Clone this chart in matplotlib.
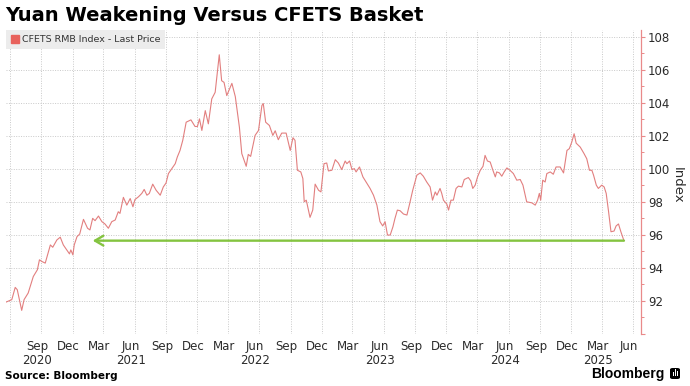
import matplotlib
matplotlib.use("Agg")
import matplotlib.pyplot as plt
import pandas as pd
from matplotlib.lines import Line2D
from matplotlib.patches import FancyBboxPatch, Rectangle
from matplotlib.transforms import ScaledTranslation

# ---------------- data ----------------
dates = [
    "2020-05-20", "2020-06-06", "2020-06-16", "2020-06-22", "2020-07-05", "2020-07-12", "2020-07-24",
    "2020-08-08", "2020-08-20", "2020-08-26", "2020-09-02", "2020-09-12", "2020-09-27", "2020-10-04",
    "2020-10-16", "2020-10-26", "2020-11-04", "2020-11-14", "2020-11-22", "2020-11-26", "2020-12-02",
    "2020-12-06", "2020-12-14", "2020-12-22", "2021-01-02", "2021-01-14", "2021-01-21", "2021-01-29",
    "2021-02-05", "2021-02-15", "2021-02-25", "2021-03-06", "2021-03-16", "2021-03-26", "2021-04-05",
    "2021-04-14", "2021-04-19", "2021-04-29", "2021-05-09", "2021-05-19", "2021-05-27", "2021-06-02",
    "2021-06-12", "2021-06-22", "2021-06-29", "2021-07-07", "2021-07-14", "2021-07-24", "2021-08-03",
    "2021-08-15", "2021-08-24", "2021-09-01", "2021-09-08", "2021-09-18", "2021-09-28", "2021-10-04",
    "2021-10-12", "2021-10-20", "2021-10-30", "2021-11-13", "2021-11-25", "2021-12-02", "2021-12-08",
    "2021-12-15", "2021-12-25", "2022-01-03", "2022-01-13", "2022-01-23", "2022-02-04", "2022-02-11",
    "2022-02-18", "2022-02-26", "2022-03-13", "2022-03-23", "2022-04-04", "2022-04-11", "2022-04-24",
    "2022-04-30", "2022-05-07", "2022-05-20", "2022-05-30", "2022-06-09", "2022-06-13", "2022-06-20",
    "2022-07-01", "2022-07-11", "2022-07-18", "2022-07-27", "2022-08-06", "2022-08-19", "2022-08-31",
    "2022-09-08", "2022-09-14", "2022-09-21", "2022-10-01", "2022-10-07", "2022-10-11", "2022-10-17",
    "2022-10-28", "2022-11-05", "2022-11-12", "2022-11-22", "2022-11-29", "2022-12-08", "2022-12-16",
    "2022-12-21", "2022-12-31", "2023-01-10", "2023-01-19", "2023-01-29", "2023-02-08", "2023-02-13",
    "2023-02-21", "2023-02-28", "2023-03-07", "2023-03-12", "2023-03-22", "2023-04-01", "2023-04-13",
    "2023-04-22", "2023-05-02", "2023-05-12", "2023-05-21", "2023-05-29", "2023-06-05", "2023-06-12",
    "2023-06-20", "2023-06-28", "2023-07-04", "2023-07-11", "2023-07-19", "2023-07-29", "2023-08-08",
    "2023-08-15", "2023-08-25", "2023-09-06", "2023-09-16", "2023-09-25", "2023-10-05", "2023-10-15",
    "2023-10-22", "2023-10-30", "2023-11-04", "2023-11-13", "2023-11-18", "2023-11-23", "2023-12-03",
    "2023-12-08", "2023-12-15", "2023-12-22", "2023-12-30", "2024-01-06", "2024-01-16", "2024-01-23",
    "2024-02-04", "2024-02-11", "2024-02-17", "2024-02-24", "2024-03-02", "2024-03-10", "2024-03-18",
    "2024-03-24", "2024-03-31", "2024-04-08", "2024-04-16", "2024-04-23", "2024-04-27", "2024-05-05",
    "2024-05-12", "2024-05-19", "2024-05-27", "2024-06-05", "2024-06-15", "2024-06-25", "2024-07-05",
    "2024-07-13", "2024-07-24", "2024-08-08", "2024-08-18", "2024-08-25", "2024-08-30", "2024-09-03",
    "2024-09-09", "2024-09-16", "2024-09-21", "2024-10-01", "2024-10-10", "2024-10-18", "2024-10-30",
    "2024-11-09", "2024-11-19", "2024-11-26", "2024-12-03", "2024-12-10", "2024-12-16", "2024-12-28",
    "2025-01-08", "2025-01-16", "2025-01-24", "2025-01-31", "2025-02-05", "2025-02-13", "2025-02-19",
    "2025-03-01", "2025-03-08", "2025-03-14", "2025-03-21", "2025-03-28", "2025-04-06", "2025-04-12",
    "2025-04-19", "2025-04-26", "2025-05-05",
]
cfets_index = [
    91.93, 92.08, 92.82, 92.68, 91.43, 92.08, 92.48,
    93.48, 93.89, 94.49, 94.39, 94.29, 95.39, 95.25,
    95.69, 95.86, 95.39, 95.09, 94.85, 95.09, 94.79,
    95.39, 95.89, 96.05, 96.94, 96.40, 96.30, 97.00,
    96.86, 97.14, 96.80, 96.66, 96.40, 96.80, 96.90,
    97.40, 97.30, 98.27, 97.80, 98.20, 97.70, 98.14,
    98.30, 98.51, 98.75, 98.40, 98.51, 99.07, 98.70,
    98.40, 98.90, 99.14, 99.71, 100.01, 100.31, 100.71,
    101.11, 101.72, 102.82, 102.96, 102.56, 102.56, 103.02,
    102.32, 103.52, 102.72, 104.23, 104.63, 106.90, 105.33,
    105.23, 104.43, 105.17, 104.37, 102.52, 100.92, 100.15,
    100.87, 100.75, 102.02, 102.32, 103.83, 103.95, 102.82,
    102.62, 102.02, 102.30, 101.76, 102.16, 102.16, 101.11,
    101.88, 101.72, 99.91, 99.81, 99.41, 98.00, 98.10,
    97.06, 97.50, 99.07, 98.70, 98.60, 100.31, 100.35,
    99.87, 99.91, 100.55, 100.35, 99.95, 100.47, 100.31,
    100.47, 99.95, 100.01, 99.81, 100.11, 99.51, 99.11,
    98.81, 98.40, 97.80, 96.80, 96.54, 96.80, 95.99,
    95.99, 96.49, 97.00, 97.50, 97.46, 97.26, 97.20,
    97.80, 98.70, 99.61, 99.75, 99.55, 99.20, 98.90,
    98.10, 98.60, 98.40, 98.81, 98.51, 98.10, 97.86,
    97.50, 98.10, 98.10, 98.81, 98.95, 98.90, 99.35,
    99.47, 99.27, 98.81, 99.01, 99.51, 99.91, 100.15,
    100.81, 100.47, 100.41, 99.91, 99.51, 99.81, 99.75,
    99.55, 99.81, 100.05, 99.91, 99.71, 99.31, 99.35,
    99.01, 98.00, 97.94, 97.80, 98.10, 98.51, 98.10,
    99.31, 99.20, 99.71, 99.81, 99.67, 100.11, 100.11,
    99.75, 101.11, 101.22, 101.61, 102.12, 101.55, 101.31,
    100.92, 100.61, 99.91, 99.91, 99.61, 99.01, 98.81,
    99.01, 98.90, 98.51, 97.40, 96.19, 96.23, 96.54,
    96.66, 96.19, 95.65,
]

# arrow marking the level (from latest point back to early 2021)
arrow_level = 95.65
arrow_start = "2025-05-05"
arrow_end = "2021-01-29"

tick_dates = [
    "2020-06-01", "2020-09-01", "2020-12-01", "2021-03-01", "2021-06-01", "2021-09-01", "2021-12-01",
    "2022-03-01", "2022-06-01", "2022-09-01", "2022-12-01", "2023-03-01", "2023-06-01", "2023-09-01",
    "2023-12-01", "2024-03-01", "2024-06-01", "2024-09-01", "2024-12-01", "2025-03-01", "2025-06-01",
]
tick_labels = [
    "", "Sep\n2020", "Dec", "Mar", "Jun\n2021", "Sep", "Dec",
    "Mar", "Jun\n2022", "Sep", "Dec", "Mar", "Jun\n2023", "Sep",
    "Dec", "Mar", "Jun\n2024", "Sep", "Dec", "Mar\n2025", "Jun",
]
y_ticks = [90, 92, 94, 96, 98, 100, 102, 104, 106, 108]
y_tick_labels = ["", "92", "94", "96", "98", "100", "102", "104", "106", "108"]

# ---------------- styling ----------------
line_color = "#e27f7f"
axis_red = "#e98a8a"
green = "#84c440"
text_color = "#2b2b2b"

W, H = 690, 386
fig = plt.figure(figsize=(W / 100, H / 100), dpi=100)
fig.patch.set_facecolor("white")
ax = fig.add_axes([6 / W, 1 - 334 / H, (641 - 6) / W, (334 - 30) / H])

x = pd.to_datetime(dates)
ax.plot(x, cfets_index, color=line_color, lw=0.8, zorder=3)

ax.set_xlim(pd.Timestamp("2020-05-20"), pd.Timestamp("2025-06-24"))
ax.set_ylim(90, 108.4)

# spines
for s in ["left", "top", "bottom"]:
    ax.spines[s].set_visible(False)
ax.spines["right"].set_color(axis_red)
ax.spines["right"].set_linewidth(0.9)

# y axis on right
ax.yaxis.tick_right()
ax.set_yticks(y_ticks)
ax.set_yticklabels(y_tick_labels)
ax.set_yticks([91, 93, 95, 97, 99, 101, 103, 105, 107], minor=True)
ax.tick_params(axis="y", which="major", length=3, width=0.8, color=axis_red,
               labelsize=8.5, labelcolor=text_color, pad=2)
ax.tick_params(axis="y", which="minor", length=2, width=0.7, color=axis_red)

# x axis
ax.set_xticks(pd.to_datetime(tick_dates))
ax.set_xticklabels(tick_labels, fontsize=8.5, color=text_color, linespacing=1.1)
ax.tick_params(axis="x", length=0, pad=4)
offset = ScaledTranslation(-4 / 100, 0, fig.dpi_scale_trans)
for lab in ax.get_xticklabels():
    lab.set_transform(lab.get_transform() + offset)

# grid
ax.grid(True, which="major", color="#c9c9c9", linestyle=(0, (1, 1.5)), lw=0.7)
ax.set_axisbelow(True)

# arrow
ax.annotate("", xy=(pd.Timestamp(arrow_end), arrow_level),
            xytext=(pd.Timestamp(arrow_start), arrow_level),
            arrowprops=dict(arrowstyle="->,head_length=0.6,head_width=0.35",
                            color=green, lw=1.7, shrinkA=0, shrinkB=0,
                            mutation_scale=10),
            zorder=4)

# legend
handle = Line2D([], [], marker="s", color="#e8625c", linestyle="none", markersize=5.5)
leg = ax.legend([handle], ["CFETS RMB Index - Last Price"], loc="upper left",
                bbox_to_anchor=(0, 1), borderaxespad=0, frameon=True, fancybox=False,
                fontsize=6.8, handlelength=0.8, handletextpad=0.3, borderpad=0.55,
                labelcolor="#333333")
leg.get_frame().set_facecolor("#ececec")
leg.get_frame().set_edgecolor("none")
leg.get_frame().set_alpha(1)

# texts
fig.text(5 / W, 1 - 21 / H, "Yuan Weakening Versus CFETS Basket",
         fontsize=14, fontweight="bold", color="black", va="baseline", ha="left")
fig.text(677 / W, 1 - 185 / H, "Index", rotation=270, fontsize=9.5,
         color=text_color, ha="center", va="center")
fig.text(5 / W, 1 - 379 / H, "Source: Bloomberg", fontsize=7.5, fontweight="bold",
         color="black", va="baseline", ha="left")
fig.text(665 / W, 1 - 378.3 / H, "Bloomberg", fontsize=10, fontweight="bold",
         family=["Liberation Sans", "DejaVu Sans"],
         color="black", va="baseline", ha="right")

# small logo mark
logo = FancyBboxPatch((670 / W, 1 - 379 / H), 10 / W, 11 / H,
                      boxstyle="round,pad=0,rounding_size=0.004",
                      transform=fig.transFigure, facecolor="black", edgecolor="none")
fig.patches.append(logo)
for bx, bh in [(672.5, 4), (674.8, 7), (677.1, 5)]:
    fig.patches.append(Rectangle((bx / W, 1 - 376 / H), 1.2 / W, bh / H,
                                 transform=fig.transFigure, facecolor="white",
                                 edgecolor="none"))

fig.savefig("out.png", dpi=100)
